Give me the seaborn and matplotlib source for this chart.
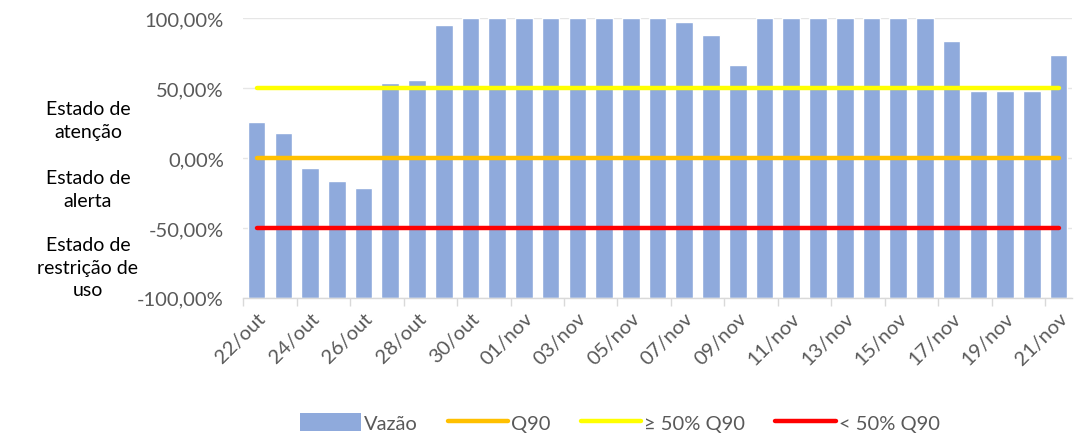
import matplotlib
matplotlib.use("Agg")
import matplotlib.pyplot as plt
import matplotlib.transforms as mtransforms
from matplotlib.patches import Patch
from matplotlib.lines import Line2D
import seaborn as sns
import numpy as np
import pandas as pd

dates = ["22/out", "23/out", "24/out", "25/out", "26/out", "27/out", "28/out", "29/out",
         "30/out", "31/out", "01/nov", "02/nov", "03/nov", "04/nov", "05/nov", "06/nov",
         "07/nov", "08/nov", "09/nov", "10/nov", "11/nov", "12/nov", "13/nov", "14/nov",
         "15/nov", "16/nov", "17/nov", "18/nov", "19/nov", "20/nov", "21/nov"]
vazao = [25.7, 18.1, -7.4, -16.4, -21.7, 53.8, 55.7, 94.8,
         100, 100, 100, 100, 100, 100, 100, 100,
         96.9, 87.6, 66.7, 100, 100, 100, 100, 100,
         100, 100, 83.6, 48.1, 48.1, 48.1, 73.3]
q90 = [0.0] * len(dates)
acima50 = [50.0] * len(dates)
abaixo50 = [-50.0] * len(dates)
yticks = [-100, -50, 0, 50, 100]
ytick_labels = ["-100,00%", "-50,00%", "0,00%", "50,00%", "100,00%"]
zone_labels = ["Estado de\natenção", "Estado de\nalerta", "Estado de\nrestrição de\nuso"]
zone_y = [27, -22, -78]

sns.set_theme(style="white")
plt.rcParams["font.family"] = ["Lato", "DejaVu Sans"]

BAR = "#8FAADC"
ORANGE = "#FFC000"
YELLOW = "#FFFF00"
RED = "#FF0000"
GRAY = "#595959"
BASE = -100  # bars in the reference rise from the bottom of the axis

fig = plt.figure(figsize=(10.86, 4.35), dpi=100)
ax = fig.add_axes([0.224, 0.313, 0.763, 0.643])

df = pd.DataFrame({"data": dates, "vazao": vazao})
df["altura"] = df["vazao"] - BASE
sns.barplot(data=df, x="data", y="altura", order=dates, color=BAR, width=0.66,
            saturation=1, bottom=BASE, ax=ax, zorder=2)

xs = np.arange(len(dates))
sns.lineplot(x=xs, y=q90, color=ORANGE, lw=3.2, ax=ax, zorder=3, solid_capstyle="round")
sns.lineplot(x=xs, y=acima50, color=YELLOW, lw=3.2, ax=ax, zorder=3, solid_capstyle="round")
sns.lineplot(x=xs, y=abaixo50, color=RED, lw=3.2, ax=ax, zorder=3, solid_capstyle="round")

FS = 14.5
ax.set_ylim(-100, 100)
ax.set_xlim(-0.5, len(dates) - 0.5)
ax.set_yticks(yticks)
ax.set_yticklabels(ytick_labels, fontsize=FS, color=GRAY)
ax.yaxis.grid(True, color="#E6E6E6", lw=1)
ax.set_axisbelow(True)
ax.tick_params(axis="y", length=0, pad=14)

ax.set_xticks(xs[::2])
ax.set_xticklabels(dates[::2], rotation=45, ha="right", rotation_mode="anchor",
                   fontsize=FS, color=GRAY)
ax.tick_params(axis="x", which="major", length=0, pad=8)
ax.set_xticks(np.arange(-0.5, len(dates), 2), minor=True)
ax.tick_params(axis="x", which="minor", length=6, color="#D9D9D9", width=1, bottom=True)
ax.set_xlabel("")
ax.set_ylabel("")

for s in ["top", "right", "left"]:
    ax.spines[s].set_visible(False)
ax.spines["bottom"].set_color("#D9D9D9")
ax.spines["bottom"].set_linewidth(1)

trans = mtransforms.blended_transform_factory(fig.transFigure, ax.transData)
for lab, y in zip(zone_labels, zone_y):
    ax.text(0.081, y, lab, transform=trans, ha="center", va="center",
            fontsize=14, color="black", linespacing=1.4)

handles = [Patch(facecolor=BAR, edgecolor="none"),
           Line2D([0], [0], color=ORANGE, lw=3.2, solid_capstyle="round"),
           Line2D([0], [0], color=YELLOW, lw=3.2, solid_capstyle="round"),
           Line2D([0], [0], color=RED, lw=3.2, solid_capstyle="round")]
labels = ["Vazão", "Q90", "≥ 50% Q90", "< 50% Q90"]
fig.legend(handles, labels, loc="center", bbox_to_anchor=(0.571, 0.027), ncol=4,
           frameon=False, fontsize=FS, handlelength=3.0, handleheight=1.0,
           handletextpad=0.15, columnspacing=1.5, labelcolor=GRAY)

fig.savefig("out.png", dpi=100)
